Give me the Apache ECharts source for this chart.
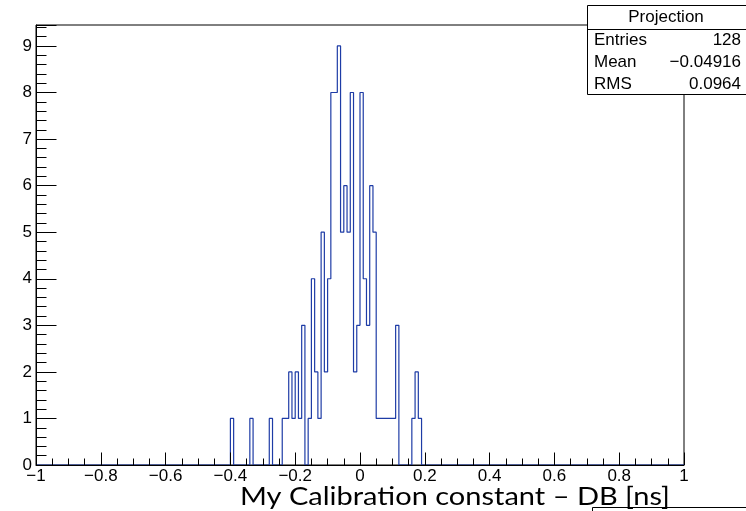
<!DOCTYPE html>
<html>
<head>
<meta charset="utf-8">
<script src="https://cdn.jsdelivr.net/npm/echarts@6/dist/echarts.min.js"></script>
<style>
  html, body { margin: 0; padding: 0; background: #fff; }
  #chart { width: 746px; height: 511px; }
</style>
</head>
<body>
<div id="chart"></div>
<script>
// Histogram binning: 200 bins of width 0.01 over [-1, 1]
const histLow = -1;
const histHigh = 1;
const binWidth = 0.01;

// Lower edges of the non-empty bins and their contents
const binLeftEdges = [
  -0.40, -0.34, -0.28,
  -0.24, -0.23, -0.22, -0.21, -0.20, -0.19, -0.18, -0.16,
  -0.15, -0.14, -0.13, -0.12, -0.11, -0.10, -0.09, -0.08, -0.07,
  -0.06, -0.05, -0.04, -0.03, -0.02, -0.01,
  0.00, 0.01, 0.02, 0.03, 0.04, 0.05, 0.06, 0.07, 0.08, 0.09, 0.10, 0.11,
  0.16, 0.17, 0.18
];
const binCounts = [
  1, 1, 1,
  1, 1, 2, 1, 2, 1, 3, 1,
  4, 2, 1, 5, 2, 4, 8, 8, 9,
  5, 6, 5, 8, 2, 3,
  8, 4, 3, 6, 5, 1, 1, 1, 1, 1, 1, 3,
  1, 2, 1
];

// Statistics box
const statsTitle = 'Projection';
const statNames = ['Entries', 'Mean', 'RMS'];
const statValues = ['128', '\u22120.04916', '0.0964'];

// Axis title
const xTitle = 'My Calibration constant \u2013 DB [ns]';

// Fill every bin of the histogram, then build the step outline
const nBins = Math.round((histHigh - histLow) / binWidth);
const contents = new Array(nBins).fill(0);
binLeftEdges.forEach((edge, k) => {
  const idx = Math.round((edge - histLow) / binWidth);
  contents[idx] = binCounts[k];
});
const stepData = [];
for (let i = 0; i < nBins; i++) {
  stepData.push([histLow + i * binWidth, contents[i]]);
}
stepData.push([histHigh, contents[nBins - 1]]);

const yMax = Math.max(...binCounts) * 1.05;

const fmtNum = v => {
  const r = Math.round(v * 10) / 10;
  if (r === 0) return '0';
  return (r < 0 ? '\u2212' : '') + String(Math.abs(r));
};

const labelFont = 'Liberation Sans, Arial, Helvetica, sans-serif';

const chart = echarts.init(document.getElementById('chart'), null, { renderer: 'canvas' });
chart.setOption({
  animation: false,
  backgroundColor: '#ffffff',
  grid: {
    left: 36, right: 62, top: 25, bottom: 46,
    show: true, borderColor: '#000', borderWidth: 1, backgroundColor: 'transparent'
  },
  xAxis: {
    type: 'value', min: histLow, max: histHigh, interval: 0.2, z: 5,
    axisLine: { show: true, onZero: false, lineStyle: { color: '#000', width: 1 } },
    axisTick: { show: true, inside: true, length: 12.5, lineStyle: { color: '#000', width: 1 } },
    minorTick: { show: true, splitNumber: 4, length: 6.5, lineStyle: { color: '#000', width: 1 } },
    splitLine: { show: false },
    axisLabel: {
      show: true, margin: 3, color: '#000', fontSize: 17, fontFamily: labelFont,
      formatter: fmtNum
    }
  },
  yAxis: {
    type: 'value', min: 0, max: yMax, interval: 1, z: 5,
    axisLine: { show: true, onZero: false, lineStyle: { color: '#000', width: 1 } },
    axisTick: { show: true, inside: true, length: 20.5, lineStyle: { color: '#000', width: 1 } },
    minorTick: { show: true, splitNumber: 5, length: 10.5, lineStyle: { color: '#000', width: 1 } },
    splitLine: { show: false },
    axisLabel: {
      show: true, margin: 4, color: '#000', fontSize: 17, fontFamily: labelFont,
      showMaxLabel: false,
      formatter: v => (Math.abs(v - Math.round(v)) < 1e-9 ? String(Math.round(v)) : '')
    }
  },
  series: [{
    type: 'line',
    data: stepData,
    step: 'end',
    showSymbol: false,
    symbol: 'none',
    z: 2,
    lineStyle: { color: '#1e3ca6', width: 1.2 }
  }],
  graphic: [
    // statistics box
    {
      type: 'group', z: 100,
      children: [
        { type: 'rect', shape: { x: 587.5, y: 5.5, width: 170, height: 89 },
          style: { fill: '#fff', stroke: '#000', lineWidth: 1 } },
        { type: 'line', shape: { x1: 587.5, y1: 29.5, x2: 746, y2: 29.5 },
          style: { stroke: '#000', lineWidth: 1 } },
        { type: 'text', x: 666, y: 17,
          style: { text: statsTitle, fill: '#000', font: '17px ' + labelFont, align: 'center', verticalAlign: 'middle' } },
        ...statNames.map((name, i) => ({
          type: 'text', x: 594, y: 40 + i * 22,
          style: { text: name, fill: '#000', font: '17px ' + labelFont, align: 'left', verticalAlign: 'middle' }
        })),
        ...statValues.map((val, i) => ({
          type: 'text', x: 741, y: 40 + i * 22,
          style: { text: val, fill: '#000', font: '17px ' + labelFont, align: 'right', verticalAlign: 'middle' }
        }))
      ]
    },
    // lower box edge peeking in at the bottom
    {
      type: 'rect', z: 90, shape: { x: 592.5, y: 507.5, width: 170, height: 30 },
      style: { fill: '#fff', stroke: '#000', lineWidth: 1 }
    },
    // axis title
    {
      type: 'text', z: 95, x: 240, y: 496.5, scaleX: 1.16,
      style: { text: xTitle, fill: '#000', font: '25px Lato, "Open Sans", sans-serif', align: 'left', verticalAlign: 'middle' }
    }
  ]
});
</script>
</body>
</html>
